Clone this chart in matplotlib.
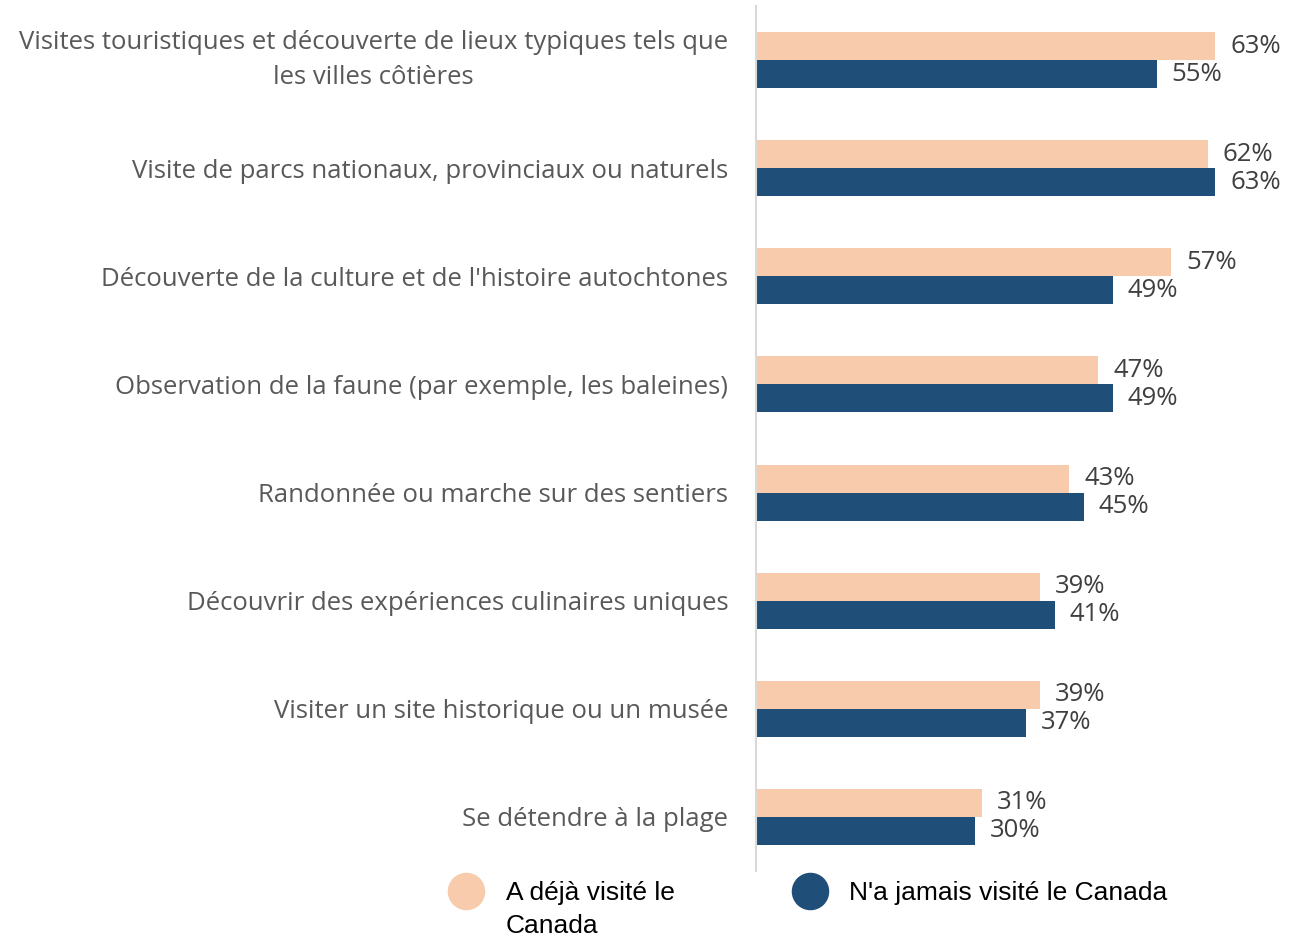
import matplotlib
matplotlib.use("Agg")
import matplotlib.pyplot as plt
from matplotlib.lines import Line2D
import numpy as np

categories = [
    "Visites touristiques et découverte de lieux typiques tels que\nles villes côtières",
    "Visite de parcs nationaux, provinciaux ou naturels",
    "Découverte de la culture et de l'histoire autochtones",
    "Observation de la faune (par exemple, les baleines)",
    "Randonnée ou marche sur des sentiers",
    "Découvrir des expériences culinaires uniques",
    "Visiter un site historique ou un musée",
    "Se détendre à la plage",
]
visited = [63, 62, 57, 47, 43, 39, 39, 31]
never_visited = [55, 63, 49, 49, 45, 41, 37, 30]
series_names = ["A déjà visité le", "N'a jamais visité le Canada"]
series_name_wrap = "Canada"

PEACH = "#F8CBAD"
BLUE = "#1F4E79"
LABEL_GRAY = "#595959"
VALUE_GRAY = "#404040"

W, H = 1289, 936
fig = plt.figure(figsize=(W/100, H/100), dpi=100)
ax = fig.add_axes([756/W, 1 - 871/H, (1266-756)/W, (871-6)/H])

y = np.arange(len(categories))
h = 0.259
ax.barh(y - h/2, visited, height=h, color=PEACH)
ax.barh(y + h/2, never_visited, height=h, color=BLUE)

ax.set_xlim(0, 70)
ax.set_ylim(len(categories) - 0.5, -0.5)
ax.set_yticks(y)
ax.set_yticklabels(categories, fontsize=18.5, color=LABEL_GRAY, family="Open Sans",
                   ha="right", multialignment="center", linespacing=1.5)
for lab in ax.get_yticklabels():
    lab.set_va("center_baseline" if "\n" not in lab.get_text() else "center")
ax.tick_params(axis="y", length=0, pad=20)
ax.set_xticks([])
for s in ["top", "right", "bottom"]:
    ax.spines[s].set_visible(False)
ax.spines["left"].set_color("#D9D9D9")
ax.spines["left"].set_linewidth(1.5)

for yi, v in zip(y, visited):
    ax.annotate(f"{v}%", (v, yi - h/2), xytext=(15, 0), textcoords="offset pixels",
                va="center", ha="left", fontsize=18.5, color=VALUE_GRAY, family="Open Sans")
for yi, v in zip(y, never_visited):
    ax.annotate(f"{v}%", (v, yi + h/2), xytext=(15, 0), textcoords="offset pixels",
                va="center", ha="left", fontsize=18.5, color=VALUE_GRAY, family="Open Sans")

handles = [Line2D([], [], marker="o", linestyle="", markersize=26, color=PEACH),
           Line2D([], [], marker="o", linestyle="", markersize=26, color=BLUE)]
leg = fig.legend(handles, series_names, loc="center left", bbox_to_anchor=(448/W, 1 - 893/H),
                 ncol=2, frameon=False, prop={"family": "Liberation Sans", "size": 19},
                 handlelength=1.4, handletextpad=0.8, columnspacing=4.4,
                 borderaxespad=0, borderpad=0)
for t in leg.get_texts():
    t.set_color("black")

fig.canvas.draw()
bb = leg.get_texts()[0].get_window_extent()
fig.text(bb.x0 / W, (bb.y0 - 33) / H, series_name_wrap, fontsize=19,
         family="Liberation Sans", color="black", ha="left", va="bottom")

fig.savefig("out.png", dpi=100)
